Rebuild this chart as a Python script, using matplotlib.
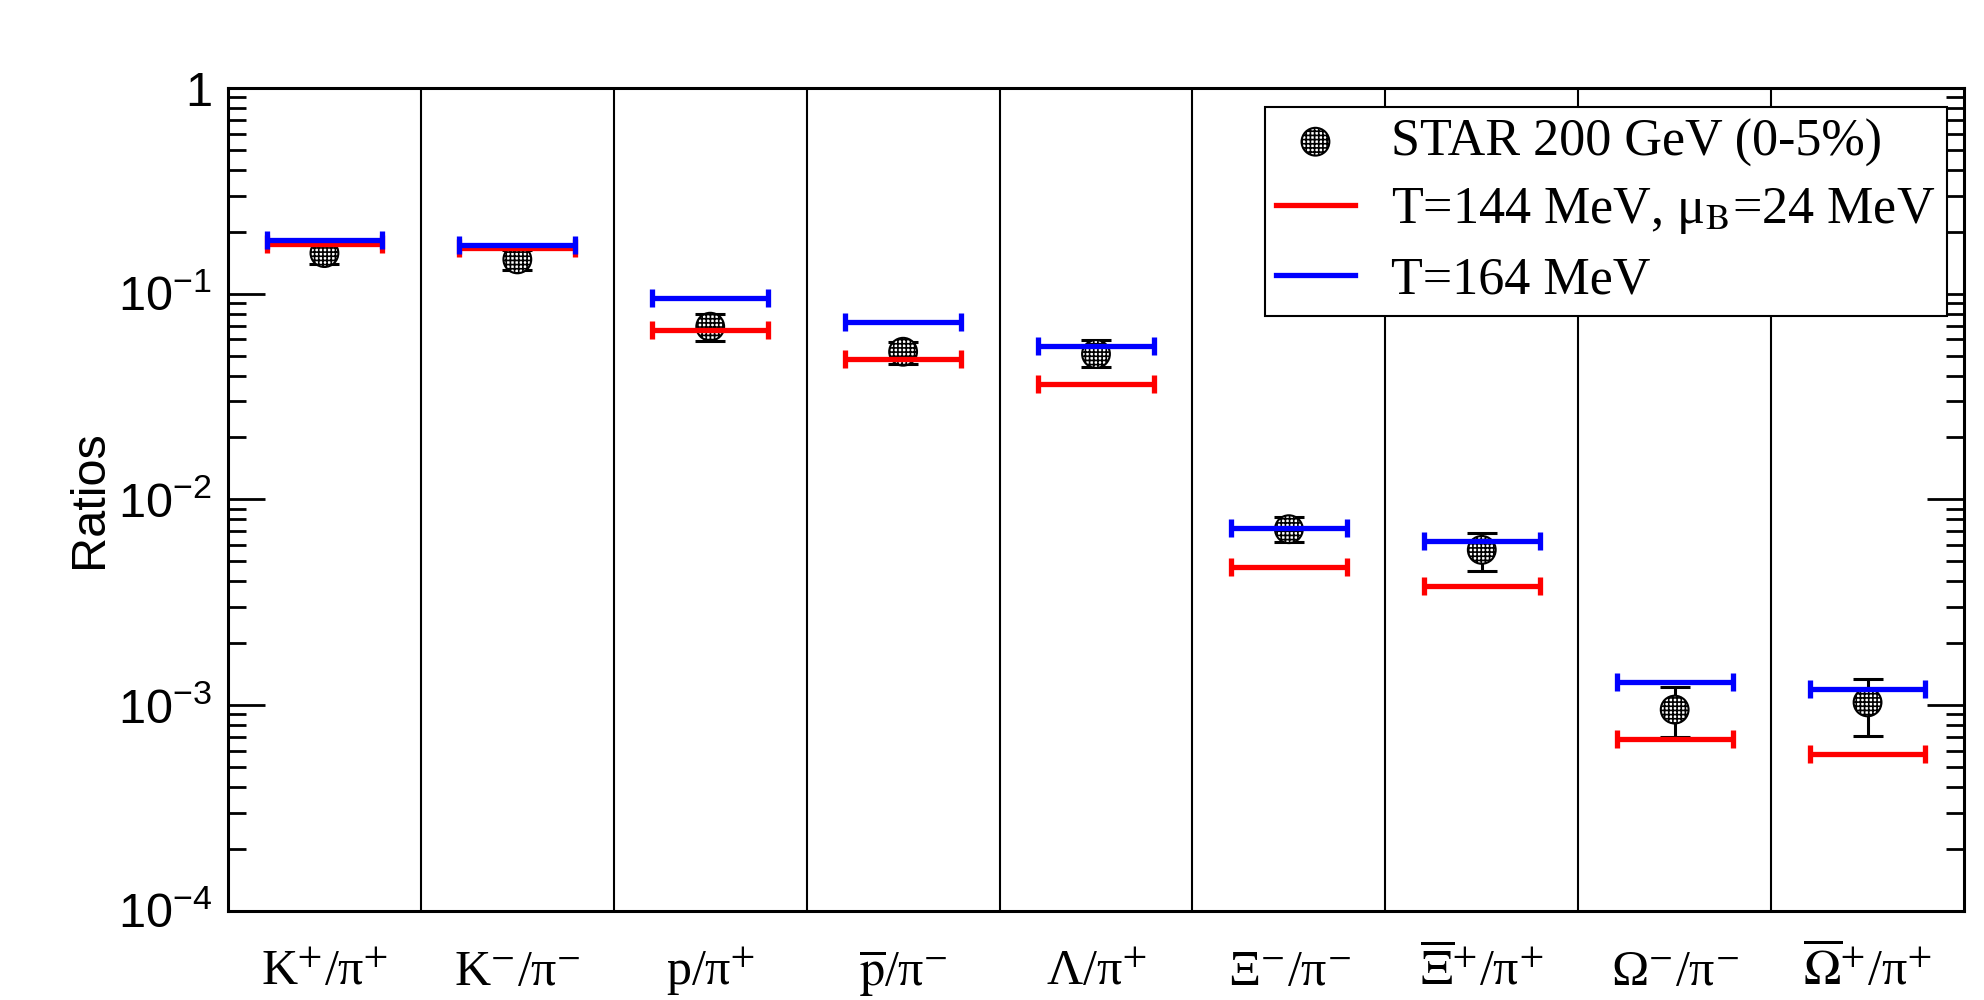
import matplotlib
matplotlib.use('Agg')
import matplotlib.pyplot as plt
import matplotlib.transforms as mtransforms
from matplotlib.ticker import LogLocator, NullFormatter, FixedLocator
from matplotlib.font_manager import FontProperties
from matplotlib.lines import Line2D

# ---------------- data ----------------
categories = [r'K$^{+}$/π$^{+}$', r'K$^{-}$/π$^{-}$', r'p/π$^{+}$',
              r'$\overline{\mathrm{p}}$/π$^{-}$', r'Λ/π$^{+}$', r'Ξ$^{-}$/π$^{-}$',
              r'$\overline{\Xi}^{+}$/π$^{+}$', r'Ω$^{-}$/π$^{-}$',
              r'$\overline{\Omega}^{+}$/π$^{+}$']
star_values = [0.1575, 0.1468, 0.0691, 0.0522, 0.0509, 0.00716, 0.00568, 0.00095, 0.00103]
star_low = [0.1392, 0.1302, 0.0588, 0.0453, 0.0440, 0.00619, 0.00450, 0.000703, 0.000709]
star_high = [0.176, 0.163, 0.0793, 0.0584, 0.0595, 0.00824, 0.00684, 0.00122, 0.00134]
model_T144 = [0.1742, 0.166, 0.0663, 0.0480, 0.0362, 0.00468, 0.00380, 0.00068, 0.00058]
model_T164 = [0.1822, 0.1722, 0.0955, 0.0728, 0.0558, 0.00729, 0.00628, 0.00130, 0.00120]
ytick_values = [1e-4, 1e-3, 1e-2, 1e-1, 1]
ytick_labels = [r'$10^{-4}$', r'$10^{-3}$', r'$10^{-2}$', r'$10^{-1}$', '1']
legend_labels = ['STAR 200 GeV (0-5%)', r'T=144 MeV, μ$_{\mathrm{B}}$=24 MeV', 'T=164 MeV']

# ---------------- style ----------------
plt.rcParams['mathtext.fontset'] = 'stix'
plt.rcParams['mathtext.rm'] = 'Liberation Sans'
plt.rcParams['mathtext.it'] = 'Liberation Sans:italic'
plt.rcParams['mathtext.bf'] = 'Liberation Sans:bold'
plt.rcParams['mathtext.sf'] = 'Liberation Sans'
plt.rcParams['hatch.linewidth'] = 1.2

fig = plt.figure(figsize=(19.84, 10), dpi=100)
ax = fig.add_axes([228 / 1984, 1 - 910.7 / 1000, 1736 / 1984, 822.7 / 1000])

n = len(categories)
xc = [i + 0.5 for i in range(n)]

ax.set_yscale('log')
ax.set_ylim(1e-4, 1)
ax.set_xlim(0, n)

# bin separators
for i in range(1, n):
    ax.axvline(i, color='black', lw=1.5, zorder=1)

# STAR data
yerr = [[v - lo for v, lo in zip(star_values, star_low)],
        [hi - v for v, hi in zip(star_values, star_high)]]
ax.errorbar(xc, star_values, yerr=yerr, fmt='none', ecolor='black',
            elinewidth=2.2, capsize=10.5, capthick=2.2, zorder=2)
star = ax.scatter(xc, star_values, s=400, facecolor='white', edgecolor='black',
                  hatch='++++', linewidths=1.5, zorder=3)

# model lines
ax.errorbar(xc, model_T144, xerr=0.30, fmt='none', ecolor='#ff0000',
            elinewidth=3.8, capsize=6.4, capthick=3.8, zorder=4)
ax.errorbar(xc, model_T164, xerr=0.30, fmt='none', ecolor='#0000ff',
            elinewidth=3.8, capsize=6.4, capthick=3.8, zorder=5)

# axes styling
for sp in ax.spines.values():
    sp.set_linewidth(2.2)
ax.set_xticks([])
ax.yaxis.set_major_locator(FixedLocator(ytick_values))
ax.set_yticklabels(ytick_labels)
ax.yaxis.set_minor_locator(LogLocator(base=10, subs=range(2, 10), numticks=20))
ax.yaxis.set_minor_formatter(NullFormatter())
ax.tick_params(which='both', direction='in', left=True, right=True,
               top=False, bottom=False)
ax.tick_params(which='major', length=26.6, width=2, pad=11.5)
ax.tick_params(which='minor', length=13, width=2)
for lbl in ax.get_yticklabels():
    lbl.set_fontfamily('Liberation Sans')
    lbl.set_fontsize(35)
    lbl.set_math_fontfamily('custom')

ax.set_ylabel('Ratios', fontsize=35, family='Liberation Sans')
ax.yaxis.label.set_va('center')
ax.yaxis.set_label_coords(-0.080, 0.5)

# category labels
trans = mtransforms.blended_transform_factory(ax.transData, ax.transAxes)
for x, lab in zip(xc, categories):
    ax.text(x, -0.0905, lab, transform=trans, ha='center', va='baseline',
            fontsize=36, family='Liberation Serif', math_fontfamily='stix')

# legend
handles = [star,
           Line2D([], [], color='#ff0000', lw=3.8),
           Line2D([], [], color='#0000ff', lw=3.8)]
leg = ax.legend(handles, legend_labels, loc='upper right',
                bbox_to_anchor=(0.990, 0.977), borderaxespad=0,
                prop=FontProperties(family='Liberation Serif', size=37.5,
                                    math_fontfamily='stix'),
                frameon=True, fancybox=False, framealpha=1, edgecolor='black',
                handlelength=1.5, handletextpad=0.7, borderpad=0.22,
                labelspacing=0.38, scatterpoints=1)
leg.get_frame().set_linewidth(1.5)
leg.set_zorder(10)

fig.savefig('out.png', dpi=100)
